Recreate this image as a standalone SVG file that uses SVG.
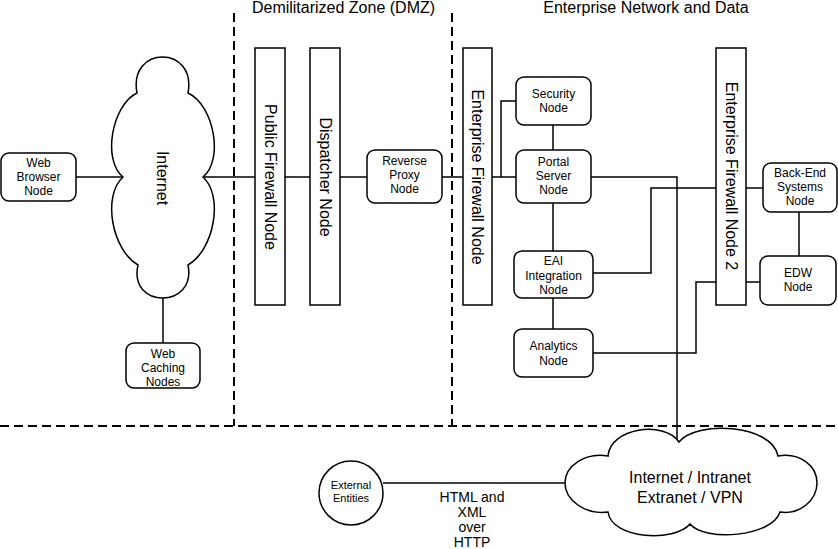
<svg xmlns="http://www.w3.org/2000/svg" width="838" height="549" viewBox="0 0 838 549">
<style>
.bg{fill:#fff}
.node{fill:#fff;stroke:#000;stroke-width:1.5}
.wire{fill:none;stroke:#000;stroke-width:1.5}
.zone{fill:none;stroke:#000;stroke-width:2;stroke-dasharray:9 5}
text{font-family:"Liberation Sans",Arial,sans-serif;fill:#000}
.t12{font-size:12px;text-anchor:middle}
.t11{font-size:11px;text-anchor:middle}
.t14{font-size:14px;text-anchor:middle}
.t16{font-size:16px;text-anchor:middle}
</style>
<rect class="bg" x="0" y="0" width="838" height="549"/>
<g id="zones">
<line class="zone" x1="234" y1="13" x2="234" y2="426"/>
<line class="zone" x1="452" y1="13" x2="452" y2="426"/>
<line class="zone" x1="0" y1="426" x2="838" y2="426"/>
<text class="t16" x="343.5" y="13">Demilitarized Zone (DMZ)</text>
<text class="t16" x="646" y="13">Enterprise Network and Data</text>
</g>
<g id="connectors">
<polyline class="wire" points="76,177 123,177"/>
<polyline class="wire" points="163,298 163,343"/>
<polyline class="wire" points="203,177 255,177"/>
<polyline class="wire" points="285,177 310,177"/>
<polyline class="wire" points="340,177 367,177"/>
<polyline class="wire" points="442,177 463,177"/>
<polyline class="wire" points="492,177 516,177"/>
<polyline class="wire" points="501,177 501,101 516,101"/>
<polyline class="wire" points="553,125 553,150"/>
<polyline class="wire" points="553,203 553,251"/>
<polyline class="wire" points="553,298 553,329"/>
<polyline class="wire" points="591,177 677,177 677,440"/>
<polyline class="wire" points="593,273 651,273 651,188 716,188"/>
<polyline class="wire" points="593,353 696,353 696,282 716,282"/>
<polyline class="wire" points="746,188 763,188"/>
<polyline class="wire" points="799,212 799,256"/>
<polyline class="wire" points="746,282 760,282"/>
<polyline class="wire" points="383,483 566,483"/>
<text class="t14" x="472" y="502">HTML and</text>
<text class="t14" x="472" y="517">XML</text>
<text class="t14" x="472" y="532">over</text>
<text class="t14" x="472" y="547">HTTP</text>
</g>
<g id="web-browser">
<rect class="node" x="1" y="153" width="75" height="48" rx="8"/>
<text class="t12" x="38.5" y="167">Web</text>
<text class="t12" x="38.5" y="181">Browser</text>
<text class="t12" x="38.5" y="195">Node</text>
</g>
<g id="internet">
<path class="node" d="M137,93 C128,45 197,45 188,93 C214,105 224,160 203,177 C224,196 214,250 188,265 C197,309 128,309 138,265 C112,250 102,196 123,177 C102,160 112,105 137,93 Z"/>
<text class="t16" transform="translate(162,178) rotate(90)" x="0" y="5.5">Internet</text>
</g>
<g id="web-caching">
<rect class="node" x="126" y="343" width="74" height="45" rx="8"/>
<text class="t12" x="163" y="358">Web</text>
<text class="t12" x="163" y="372">Caching</text>
<text class="t12" x="163" y="386">Nodes</text>
</g>
<g id="public-firewall">
<rect class="node" x="255" y="48" width="30" height="257"/>
<text class="t16" transform="translate(270,177) rotate(90)" x="0" y="5.5">Public Firewall Node</text>
</g>
<g id="dispatcher">
<rect class="node" x="310" y="48" width="30" height="257"/>
<text class="t16" transform="translate(325,177) rotate(90)" x="0" y="5.5">Dispatcher Node</text>
</g>
<g id="reverse-proxy">
<rect class="node" x="367" y="150" width="75" height="53" rx="8"/>
<text class="t12" x="404.5" y="165">Reverse</text>
<text class="t12" x="404.5" y="179">Proxy</text>
<text class="t12" x="404.5" y="193">Node</text>
</g>
<g id="enterprise-firewall">
<rect class="node" x="463" y="48" width="29" height="257"/>
<text class="t16" transform="translate(477.5,177) rotate(90)" x="0" y="5.5">Enterprise Firewall Node</text>
</g>
<g id="security">
<rect class="node" x="516" y="77" width="75" height="48" rx="8"/>
<text class="t12" x="553.5" y="98">Security</text>
<text class="t12" x="553.5" y="112">Node</text>
</g>
<g id="portal-server">
<rect class="node" x="516" y="150" width="75" height="53" rx="8"/>
<text class="t12" x="553.5" y="166">Portal</text>
<text class="t12" x="553.5" y="180">Server</text>
<text class="t12" x="553.5" y="194">Node</text>
</g>
<g id="eai">
<rect class="node" x="514" y="251" width="79" height="47" rx="8"/>
<text class="t12" x="553.5" y="265">EAI</text>
<text class="t12" x="553.5" y="280">Integration</text>
<text class="t12" x="553.5" y="294">Node</text>
</g>
<g id="analytics">
<rect class="node" x="514" y="329" width="79" height="48" rx="8"/>
<text class="t12" x="553.5" y="350">Analytics</text>
<text class="t12" x="553.5" y="365">Node</text>
</g>
<g id="enterprise-firewall-2">
<rect class="node" x="716" y="48" width="30" height="257"/>
<text class="t16" transform="translate(731,176) rotate(90)" x="0" y="5.5">Enterprise Firewall Node 2</text>
</g>
<g id="back-end">
<rect class="node" x="763" y="163" width="74" height="49" rx="8"/>
<text class="t12" x="800" y="177">Back-End</text>
<text class="t12" x="800" y="191">Systems</text>
<text class="t12" x="800" y="205">Node</text>
</g>
<g id="edw">
<rect class="node" x="760" y="256" width="76" height="49" rx="8"/>
<text class="t12" x="798" y="277">EDW</text>
<text class="t12" x="798" y="291">Node</text>
</g>
<g id="external-entities">
<circle class="node" cx="351" cy="493" r="32"/>
<text class="t11" x="351" y="489">External</text>
<text class="t11" x="351" y="502">Entities</text>
</g>
<g id="internet-intranet">
<path class="node" d="M608,456 C610,428 664,420 679,442 C696,420 772,424 778,456 C800,452 817,466 817,483 C817,500 800,515 780,512 C772,537 705,542 690,524 C675,542 612,540 608,512 C585,515 565,500 565,483 C565,466 585,452 608,456 Z"/>
<text class="t16" x="690" y="483">Internet / Intranet</text>
<text class="t16" x="690" y="503">Extranet / VPN</text>
</g>
</svg>
